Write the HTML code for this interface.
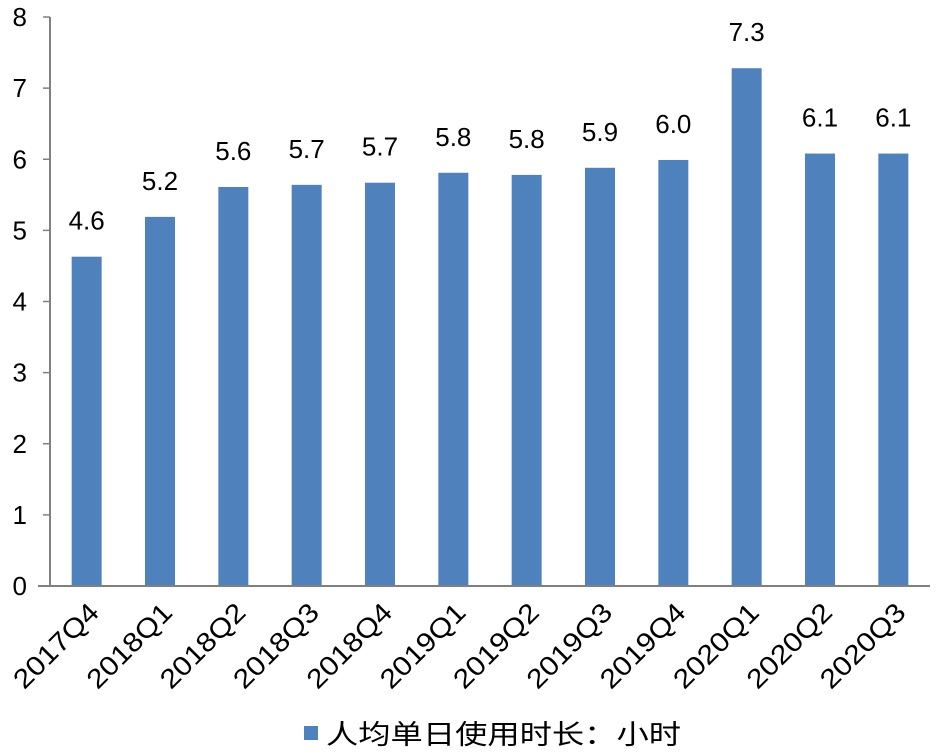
<!DOCTYPE html>
<html><head><meta charset="utf-8">
<style>
html,body{margin:0;padding:0;background:#fff;}
svg{display:block;font-family:"Liberation Sans","Noto Sans CJK SC",sans-serif;}
</style></head>
<body>
<svg id="chart" width="939" height="755" viewBox="0 0 939 755">
<g id="grid"></g>
<g id="bars"></g>
<g id="labels"></g>
<g id="axes"></g>
<g>
  <rect x="304" y="726" width="14" height="14" fill="#4f81bd"></rect>
  <text x="326" y="744" font-size="27" textLength="355" lengthAdjust="spacingAndGlyphs" fill="#000">人均单日使用时长：小时</text>
</g>
</svg>
<script>
const categories = ["2017Q4","2018Q1","2018Q2","2018Q3","2018Q4","2019Q1","2019Q2","2019Q3","2019Q4","2020Q1","2020Q2","2020Q3"];
const values = [4.63,5.19,5.61,5.64,5.67,5.81,5.78,5.88,5.99,7.28,6.08,6.08];
const valueLabels = ["4.6","5.2","5.6","5.7","5.7","5.8","5.8","5.9","6.0","7.3","6.1","6.1"];
const yTicks = [0,1,2,3,4,5,6,7,8];

const NS = "http://www.w3.org/2000/svg";
const x0 = 50, x1 = 930, y0 = 586, yTop = 17, yMax = 8;
const band = (x1 - x0) / categories.length;
function yScale(v){ return y0 - (v / yMax) * (y0 - yTop); }
function xCenter(i){ return x0 + band * (i + 0.5); }
function mk(tag, attrs, parent){ const e = document.createElementNS(NS, tag); for (const k in attrs) e.setAttribute(k, attrs[k]); parent.appendChild(e); return e; }

const bars = document.getElementById("bars");
const labels = document.getElementById("labels");
const axes = document.getElementById("axes");
const bw = 30;
values.forEach((v, i) => {
  const cx = xCenter(i);
  const r = mk("rect", {x: cx - bw/2, y: yScale(v), width: bw, height: y0 - yScale(v), fill: "#4f81bd"}, bars);
  
  
  const t = mk("text", {x: cx, y: yScale(v) - 27, "text-anchor": "middle", "font-size": "26", fill: "#000"}, labels);
  t.textContent = valueLabels[i];
  
  
  const lx = cx + 14, ly = 614;
  const c = mk("text", {x: lx, y: ly, "text-anchor": "end", "font-size": "27", textLength: "108", lengthAdjust: "spacingAndGlyphs", fill: "#000", transform: "rotate(-45 " + lx + " " + ly + ")"}, labels);
  c.textContent = categories[i];
  
  
});
yTicks.forEach(v => {
  const y = yScale(v);
  const tk = mk("line", {x1: 43, x2: 50, y1: y, y2: y, stroke: "#808080", "stroke-width": "1.5"}, axes);
  
  
  const t = mk("text", {x: 27, y: y + 9, "text-anchor": "end", "font-size": "26", fill: "#000"}, axes);
  t.textContent = v;
  
  
});
const ya = mk("line", {x1: 50, x2: 50, y1: yTop, y2: y0, stroke: "#808080", "stroke-width": "2"}, axes);


const xa = mk("line", {x1: 38, x2: x1, y1: y0, y2: y0, stroke: "#808080", "stroke-width": "2"}, axes);


</script>
</body></html>
